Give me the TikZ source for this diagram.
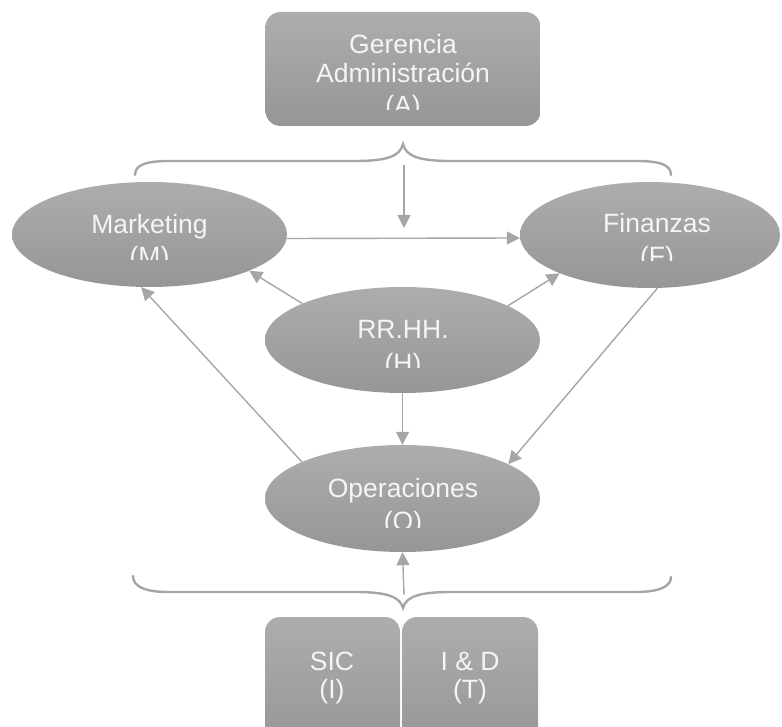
\documentclass[tikz,border=0pt]{standalone}
\usepackage{fontspec}
\setmainfont{Liberation Sans}
\usetikzlibrary{arrows.meta,shapes.geometric}

\definecolor{fillTop}{RGB}{173,173,173}
\definecolor{fillBot}{RGB}{150,150,150}
\definecolor{lineGray}{RGB}{166,166,166}
\definecolor{txtWhite}{RGB}{245,245,245}

\begin{document}
\begin{tikzpicture}[
  x=1pt, y=-1pt,
  unit/.style={top color=fillTop, bottom color=fillBot, draw=none, inner sep=0pt},
  boxunit/.style={unit, rectangle, rounded corners=15pt},
  ovalunit/.style={unit, ellipse},
  lbl/.style={text=txtWhite, font=\fontsize{26.5}{32}\selectfont, anchor=base, inner sep=0pt},
  link/.style={draw=lineGray, line width=1.4pt, -{Triangle[length=13pt,width=13pt]}},
  brace/.style={draw=lineGray, line width=2.4pt, line cap=round},
]
\useasboundingbox (0,0) rectangle (782,727);

% --- units -------------------------------------------------------------
\node[boxunit, minimum width=275pt, minimum height=114pt] (a) at (403,69) {};
\node[ovalunit, minimum width=275pt, minimum height=105pt] (m) at (149.5,234.5) {};
\node[ovalunit, minimum width=260pt, minimum height=106pt] (f) at (650,235) {};
\node[ovalunit, minimum width=275pt, minimum height=106pt] (h) at (402.5,340) {};
\node[ovalunit, minimum width=275pt, minimum height=107pt] (o) at (402.5,498.5) {};
\node[boxunit, minimum width=135pt, minimum height=130pt] (i) at (332.5,682) {};
\node[boxunit, minimum width=136pt, minimum height=130pt] (t) at (470,682) {};

% --- labels (the last line of each unit is cut by its text frame) --------
\node[lbl] (a1) at (403,54) {Gerencia};
\node[lbl] (a2) at (403,83) {Administración};
\begin{scope}
  \clip (266,90) rectangle (540,110);
  \node[lbl] (a3) at (403,115) {(A)};
\end{scope}

\node[lbl] (m1) at (149.5,234) {Marketing};
\begin{scope}
  \clip (12,240) rectangle (287,260);
  \node[lbl] (m2) at (149.5,266) {(M)};
\end{scope}

\node[lbl] (f1) at (657,233) {Finanzas};
\begin{scope}
  \clip (520,240) rectangle (782,261);
  \node[lbl] (f2) at (657,266) {(F)};
\end{scope}

\node[lbl] (h1) at (403,339) {RR.HH.};
\begin{scope}
  \clip (265,345) rectangle (540,368);
  \node[lbl] (h2) at (403,372) {(H)};
\end{scope}

\node[lbl] (o1) at (403,497) {Operaciones};
\begin{scope}
  \clip (265,503) rectangle (540,527);
  \node[lbl] (o2) at (403,530) {(O)};
\end{scope}

\node[lbl] (i1) at (332,670) {SIC};
\node[lbl] (i2) at (332,698) {(I)};
\node[lbl] (t1) at (470,670) {I \& D};
\node[lbl] (t2) at (470,698) {(T)};

% --- braces --------------------------------------------------------------
\draw[brace] (135,175) .. controls (135,164) and (148,161) .. (170,161)
  -- (355,161) .. controls (385,161) and (400,157) .. (403,144)
  .. controls (406,157) and (421,161) .. (451,161)
  -- (636,161) .. controls (658,161) and (671,164) .. (671,175);
\draw[brace] (133,576) .. controls (133,587) and (146,592) .. (168,592)
  -- (355,592) .. controls (385,592) and (400,596) .. (403,608)
  .. controls (406,596) and (421,592) .. (451,592)
  -- (636,592) .. controls (658,592) and (671,587) .. (671,577);

\coordinate (topfrom) at (404,165);
\coordinate (topto) at (404,228);
\coordinate (botfrom) at (404,595);

% --- connectors ----------------------------------------------------------
\draw[link] (topfrom) -- (topto);
\draw[link] ([yshift=-4pt]m.east) -- ([yshift=-3pt]f.west);
\draw[link] (h.160) -- (m.-20.5);
\draw[link] (h.18.4) -- (f.203.4);
\draw[link] (h.south) -- (o.north);
\draw[link] (o.160.4) -- (m.-99.7);
\draw[link] (f.-82.7) -- (o.18.6);
\draw[link] (botfrom) -- (o.south);
\end{tikzpicture}
\end{document}
